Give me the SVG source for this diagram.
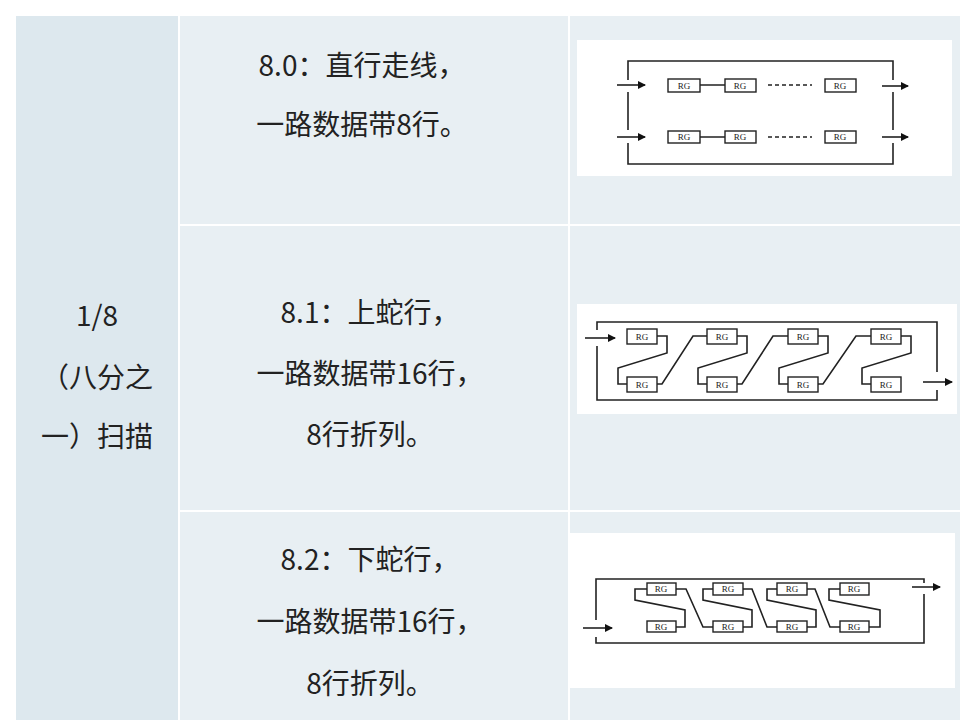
<svg xmlns="http://www.w3.org/2000/svg" width="960" height="720" viewBox="0 0 960 720">
<style>
.t{font-family:"Noto Sans CJK SC","Noto Sans",sans-serif;font-size:28px;fill:#222;text-anchor:middle}
.l{fill:none;stroke:#222;stroke-width:1.6}
.b{fill:#fff;stroke:#222;stroke-width:1.4}
.r{font-family:"Liberation Serif",serif;font-size:9px;fill:#222;text-anchor:middle}
</style>
<defs><marker id="a" markerWidth="8" markerHeight="8" refX="7" refY="4" orient="auto" markerUnits="userSpaceOnUse"><path d="M0,0L8,4L0,8z" fill="#111"/></marker></defs>
<rect width="960" height="720" fill="#fff"/>
<g id="table">
<rect x="16" y="16" width="162" height="704" fill="#dde8ee"/>
<rect x="180" y="16" width="388" height="208" fill="#e8eff3"/>
<rect x="570" y="16" width="390" height="208" fill="#e8eff3"/>
<rect x="180" y="226" width="388" height="284" fill="#e8eff3"/>
<rect x="570" y="226" width="390" height="284" fill="#e8eff3"/>
<rect x="180" y="512" width="388" height="208" fill="#e8eff3"/>
<rect x="570" y="512" width="390" height="208" fill="#e8eff3"/>
</g>
<g id="texts">
<text class="t" x="97" y="326">1/8</text>
<text class="t" x="97" y="388">（八分之</text>
<text class="t" x="97" y="447">一）扫描</text>
<text class="t" x="362" y="76">8.0：直行走线，</text>
<text class="t" x="362" y="135">一路数据带8行。</text>
<text class="t" x="370" y="323">8.1：上蛇行，</text>
<text class="t" x="370" y="384">一路数据带16行，</text>
<text class="t" x="370" y="445">8行折列。</text>
<text class="t" x="370" y="570">8.2：下蛇行，</text>
<text class="t" x="370" y="632">一路数据带16行，</text>
<text class="t" x="370" y="694">8行折列。</text>
</g>
<g id="d1">
<rect x="577" y="40" width="375" height="136" fill="#fff"/>
<path class="l" d="M628,80V61H893V80M628,92V130M893,92V130M628,143V164H893V143"/>
<path class="l" d="M617,85H645" marker-end="url(#a)"/>
<path class="l" d="M617,137H645" marker-end="url(#a)"/>
<path class="l" d="M882,86H908" marker-end="url(#a)"/>
<path class="l" d="M882,137H908" marker-end="url(#a)"/>
<path class="l" d="M700,85H725M700,137H725"/>
<path class="l" d="M768,85H812M768,137H812" stroke-dasharray="4,3"/>
<g id="d1boxes">
<rect class="b" x="668" y="79" width="32" height="13"/><rect class="b" x="725" y="79" width="31" height="13"/><rect class="b" x="825" y="79" width="31" height="13"/>
<rect class="b" x="668" y="131" width="32" height="12"/><rect class="b" x="725" y="131" width="31" height="12"/><rect class="b" x="825" y="131" width="31" height="12"/>
<text class="r" x="684" y="89">RG</text><text class="r" x="740" y="89">RG</text><text class="r" x="840" y="89">RG</text>
<text class="r" x="684" y="140">RG</text><text class="r" x="740" y="140">RG</text><text class="r" x="840" y="140">RG</text>
</g>
</g>
<g id="d2">
<rect x="577" y="304" width="380" height="110" fill="#fff"/>
<path class="l" d="M597,330V322H937V372M597,346V400H937V390"/>
<path class="l" d="M585,338H615" marker-end="url(#a)"/>
<path class="l" d="M923,382H952" marker-end="url(#a)"/>
<path class="l" d="M657,336H667V353L618,368V384H627M737,336H747V353L698,368V384H707M818,336H828V353L779,368V384H788M901,336H911V353L862,368V384H871"/>
<path class="l" d="M657,384H662L693,336H707M737,384H742L773,336H788M818,384H823L856,336H871"/>
<g id="d2boxes">
<rect class="b" x="627" y="329" width="30" height="15"/><rect class="b" x="707" y="329" width="30" height="15"/><rect class="b" x="788" y="329" width="30" height="15"/><rect class="b" x="871" y="329" width="30" height="15"/>
<rect class="b" x="627" y="377" width="30" height="15"/><rect class="b" x="707" y="377" width="30" height="15"/><rect class="b" x="788" y="377" width="30" height="15"/><rect class="b" x="871" y="377" width="30" height="15"/>
<text class="r" x="642" y="340">RG</text><text class="r" x="722" y="340">RG</text><text class="r" x="803" y="340">RG</text><text class="r" x="886" y="340">RG</text>
<text class="r" x="642" y="388">RG</text><text class="r" x="722" y="388">RG</text><text class="r" x="803" y="388">RG</text><text class="r" x="886" y="388">RG</text>
</g>
</g>
<g id="d3">
<rect x="570" y="533" width="385" height="155" fill="#fff"/>
<path class="l" d="M596,620V579H924V583M596,637V643H924V594"/>
<path class="l" d="M583,628H612" marker-end="url(#a)"/>
<path class="l" d="M912,587H940" marker-end="url(#a)"/>
<path class="l" d="M647,589H635V600L685,610V627H676M713,589H703V600L752,610V627H743M777,589H767V600L816,610V627H807M840,589H829V600L880,610V627H869"/>
<path class="l" d="M676,589H686L703,627H713M743,589H752L767,627H777M807,589H815L830,627H840"/>
<g id="d3boxes">
<rect class="b" x="647" y="583" width="29" height="12"/><rect class="b" x="713" y="583" width="30" height="12"/><rect class="b" x="777" y="583" width="30" height="12"/><rect class="b" x="840" y="583" width="29" height="12"/>
<rect class="b" x="647" y="621" width="29" height="11"/><rect class="b" x="713" y="621" width="30" height="11"/><rect class="b" x="777" y="621" width="30" height="11"/><rect class="b" x="840" y="621" width="29" height="11"/>
<text class="r" x="661" y="592">RG</text><text class="r" x="728" y="592">RG</text><text class="r" x="792" y="592">RG</text><text class="r" x="854" y="592">RG</text>
<text class="r" x="661" y="630">RG</text><text class="r" x="728" y="630">RG</text><text class="r" x="792" y="630">RG</text><text class="r" x="854" y="630">RG</text>
</g>
</g>
</svg>
